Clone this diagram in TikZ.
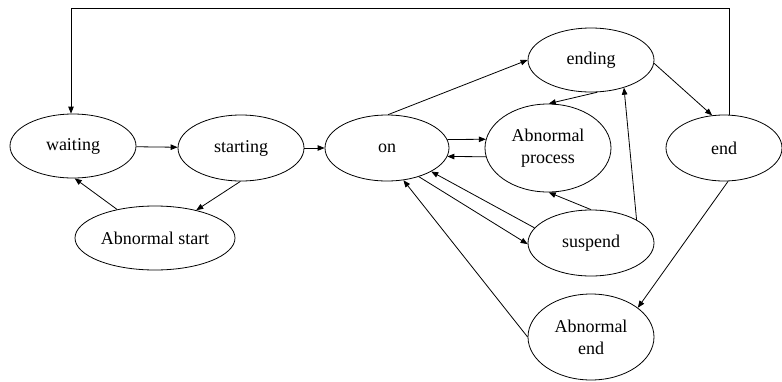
\documentclass[tikz,border=0pt]{standalone}
\usepackage{fontspec}
\setmainfont{Liberation Serif}
\usetikzlibrary{shapes.geometric,arrows.meta}
\begin{document}
\begin{tikzpicture}[x=1pt,y=-1pt,
  st/.style={draw,ellipse,inner sep=0pt,line width=0.8pt,align=center,
    font=\fontsize{18}{22}\selectfont},
  arr/.style={-{Triangle[length=7pt,width=5.5pt]},line width=0.8pt}]
\useasboundingbox (0,0) rectangle (782,381);
\node[st,minimum width=126pt,minimum height=64pt] (waiting) at (73,146) {waiting};
\node[st,minimum width=126pt,minimum height=66pt] (starting) at (241,148) {starting};
\node[st,minimum width=160pt,minimum height=64pt] (astart) at (155,238) {Abnormal start};
\node[st,minimum width=124pt,minimum height=66pt] (on) at (387,148) {on};
\node[st,minimum width=126pt,minimum height=88pt] (aproc) at (548,148) {Abnormal\\process};
\node[st,minimum width=126pt,minimum height=64pt] (ending) at (591,60) {ending};
\node[st,minimum width=116pt,minimum height=66pt] (end) at (724,148) {end};
\node[st,minimum width=126pt,minimum height=66pt] (suspend) at (591,243) {suspend};
\node[st,minimum width=126pt,minimum height=86pt] (aend) at (591,337) {Abnormal\\end};

\draw[arr] (waiting) -- (starting);
\draw[arr] (starting) -- (on);
\draw[arr] (starting.-91) -- (astart.34);
\draw[arr] (astart.143) -- (waiting.-87);
\draw[arr] (on.88) -- (ending.180);
\draw[arr] (ending.-79) -- (aproc.89);
\draw[arr] (ending.-3) -- (end.110);
\draw[arr] ([xshift=5pt]end.north) -- ++(0,-106) -| ([xshift=-2pt]waiting.north);
\draw[arr] (on.8) -- (aproc.172);
\draw[arr] (aproc.188) -- (on.-8);
\draw[arr] (suspend.165) -- (on.-28);
\draw[arr] (on.-42) -- (suspend.181);
\draw[arr] (suspend.90) -- (aproc.-89);
\draw[arr] (suspend.27) -- (ending.-40);
\draw[arr] (aend.180) -- (on.-63);
\draw[arr] (end.-83) -- (aend.32);
\end{tikzpicture}
\end{document}
